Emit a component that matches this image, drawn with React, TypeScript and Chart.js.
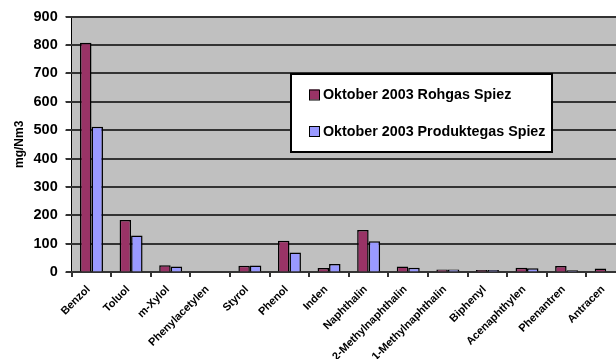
import React, { useEffect, useRef } from "react";
import { Chart, registerables } from "chart.js";

Chart.register(...registerables);

const categories = [
  "Benzol",
  "Toluol",
  "m-Xylol",
  "Phenylacetylen",
  "Styrol",
  "Phenol",
  "Inden",
  "Naphthalin",
  "2-Methylnaphthalin",
  "1-Methylnaphthalin",
  "Biphenyl",
  "Acenaphthylen",
  "Phenantren",
  "Antracen",
];

const rohgas = [808, 183, 24, 0, 22, 110, 14, 148, 19, 9, 7, 15, 21, 12];
const produktegas = [512, 129, 19, 2, 23, 69, 28, 108, 15, 9, 7, 13, 6, 0];

const seriesNames = ["Oktober 2003 Rohgas Spiez", "Oktober 2003 Produktegas Spiez"];
const seriesColors = ["#993366", "#9999FF"];
const yTitle = "mg/Nm3";

const FONT = "'Liberation Sans', Arial, sans-serif";

const plotBg = {
  id: "plotBg",
  beforeDraw(chart: any) {
    const { ctx, chartArea } = chart;
    ctx.save();
    ctx.fillStyle = "#C0C0C0";
    ctx.fillRect(chartArea.left, chartArea.top, chartArea.right - chartArea.left, chartArea.bottom - chartArea.top);
    ctx.restore();
  },
};

// value gridlines and category tick marks, positioned by the chart's own scales
const gridMarks = {
  id: "gridMarks",
  beforeDatasetsDraw(chart: any) {
    const { ctx, chartArea } = chart;
    const ys = chart.scales.y;
    const xs = chart.scales.x;
    ctx.save();
    ctx.setLineDash([]);
    ctx.globalAlpha = 1;
    ctx.strokeStyle = "#333333";
    ctx.lineWidth = 2;
    ys.ticks.forEach((t: any) => {
      const py = Math.round(ys.getPixelForValue(t.value));
      ctx.beginPath();
      ctx.moveTo(chartArea.left - 6, py);
      ctx.lineTo(chartArea.right, py);
      ctx.stroke();
    });
    const n = xs.ticks.length;
    const step = n > 1 ? xs.getPixelForTick(1) - xs.getPixelForTick(0) : 0;
    for (let i = 0; i <= n; i++) {
      const px = Math.round(xs.getPixelForTick(Math.min(i, n - 1)) + (i < n ? -step / 2 : step / 2));
      ctx.beginPath();
      ctx.moveTo(px, chartArea.bottom);
      ctx.lineTo(px, chartArea.bottom + 5);
      ctx.stroke();
    }
    ctx.restore();
  },
};

const boxLegend = {
  id: "boxLegend",
  afterDraw(chart: any) {
    const { ctx } = chart;
    const x = 291, y = 74, w = 261, h = 78;
    ctx.save();
    ctx.fillStyle = "#FFFFFF";
    ctx.fillRect(x, y, w, h);
    ctx.strokeStyle = "#000";
    ctx.lineWidth = 2;
    ctx.strokeRect(x, y, w, h);
    const rows = [94.5, 131];
    chart.data.datasets.forEach((ds: any, i: number) => {
      const cy = rows[i];
      ctx.fillStyle = ds.backgroundColor;
      ctx.fillRect(309, cy - 5, 10, 10);
      ctx.strokeStyle = "#000";
      ctx.lineWidth = 1;
      ctx.strokeRect(309.5, cy - 4.5, 10, 10);
      ctx.fillStyle = "#000";
      ctx.font = `bold 14.3px ${FONT}`;
      ctx.textBaseline = "middle";
      ctx.textAlign = "left";
      ctx.fillText(ds.label, 323, cy + 1);
    });
    ctx.restore();
  },
};

export default function App() {
  const ref = useRef<HTMLCanvasElement | null>(null);
  useEffect(() => {
    if (!ref.current) return;
    const chart = new Chart(ref.current, {
      type: "bar",
      data: {
        labels: categories,
        datasets: [
          {
            label: seriesNames[0],
            data: rohgas,
            backgroundColor: seriesColors[0],
            borderColor: "#000",
            borderWidth: 1.5,
          },
          {
            label: seriesNames[1],
            data: produktegas,
            backgroundColor: seriesColors[1],
            borderColor: "#000",
            borderWidth: 1.5,
          },
        ],
      },
      options: {
        responsive: false,
        animation: false,
        datasets: { bar: { categoryPercentage: 0.58, barPercentage: 1 } },
        layout: { padding: { left: 0, top: 13, right: 14, bottom: 0 } },
        plugins: {
          legend: { display: false },
          tooltip: { enabled: false },
        },
        scales: {
          x: {
            grid: {
              offset: true,
              drawOnChartArea: false,
              tickLength: 5,
              color: "#000",
              lineWidth: 1,
            },
            border: { color: "#000", width: 1 },
            ticks: {
              color: "#000",
              font: { family: FONT, size: 11, weight: "bold" },
              minRotation: 45,
              maxRotation: 45,
              autoSkip: false,
              padding: 6,
              labelOffset: -3,
            },
            afterFit(scale: any) {
              scale.height = 87;
            },
          },
          y: {
            min: 0,
            max: 900,
            ticks: {
              stepSize: 100,
              color: "#000",
              font: { family: FONT, size: 14.5, weight: "bold" },
              padding: 8,
            },
            grid: {
              color: "#000",
              lineWidth: 1,
              tickLength: 6,
            },
            border: { color: "#000", width: 1 },
            title: {
              display: true,
              text: yTitle,
              color: "#000",
              font: { family: FONT, size: 12, weight: "bold" },
              padding: { top: 12, bottom: 0 },
            },
            afterFit(scale: any) {
              scale.width = 71.7;
            },
          },
        },
      },
      plugins: [plotBg, gridMarks, boxLegend],
    });
    return () => chart.destroy();
  }, []);
  return (
    <div
      style={{
        position: "fixed",
        left: 0,
        top: 0,
        width: 616,
        height: 359,
        overflow: "hidden",
        background: "#fff",
      }}
    >
      <canvas ref={ref} width={640} height={359} style={{ display: "block" }} />
    </div>
  );
}
